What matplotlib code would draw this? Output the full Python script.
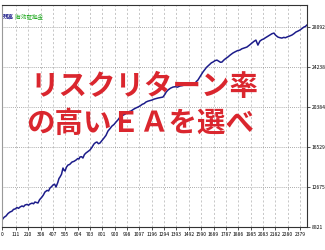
import matplotlib.pyplot as plt

plt.rcParams['font.family'] = ['Noto Sans CJK JP', 'DejaVu Sans']

# balance curve (trade number, balance)
trades = [0, 16, 32, 48, 64, 80, 92, 104, 120, 132, 144, 160, 172, 184, 200,
          212, 223, 240, 252, 263, 275, 287, 300, 319, 330, 343, 360, 372,
          383, 395, 407, 420, 431, 445, 455, 463, 475, 487, 495, 503, 515,
          527, 540, 550, 559, 575, 591, 605, 615, 622, 635, 646, 658, 670,
          686, 702, 718, 728, 734, 746, 758, 770, 782, 798, 814, 830, 846,
          862, 878, 894, 910, 926, 942, 960, 975, 998, 1015, 1030, 1053,
          1070, 1085, 1101, 1120, 1135, 1149, 1165, 1180, 1197, 1215, 1230,
          1245, 1265, 1285, 1300, 1312, 1325, 1345, 1365, 1385, 1400, 1420,
          1440, 1460, 1476, 1500, 1524, 1540, 1552, 1564, 1580, 1590, 1604,
          1620, 1632, 1644, 1660, 1672, 1684, 1700, 1716, 1730, 1744, 1756,
          1770, 1785, 1803, 1820, 1843, 1860, 1880, 1899, 1915, 1935, 1955,
          1975, 1995, 2010, 2027, 2035, 2043, 2059, 2075, 2090, 2099, 2115,
          2130, 2139, 2155, 2171, 2185, 2195, 2203, 2215, 2234, 2250, 2262,
          2274, 2290, 2305, 2314, 2330, 2346, 2362, 2378, 2395, 2410, 2422,
          2434]
balance = [9495, 9750, 9881, 10120, 10266, 10350, 10520, 10555, 10700, 10620,
           10748, 10850, 10780, 10941, 11000, 10920, 11037, 11120, 11060,
           11230, 11180, 11133, 11450, 11712, 11900, 12193, 12350, 12300,
           12579, 12700, 12868, 12950, 12675, 13100, 13500, 13639, 13900,
           14506, 14300, 14217, 14600, 14795, 14850, 14980, 15084, 15150,
           15276, 15420, 15380, 15566, 15600, 15469, 15800, 15951, 16100,
           16240, 16500, 16700, 16818, 16950, 17011, 16850, 16914, 17150,
           17396, 17650, 18070, 18300, 18552, 18700, 18938, 19150, 19420,
           19560, 19650, 19805, 19950, 20000, 20190, 20300, 20380, 20480,
           20650, 20720, 20865, 20950, 21000, 21058, 21150, 21200, 21250,
           21300, 21347, 21600, 21850, 22021, 22200, 22310, 22350, 22300,
           22407, 22450, 22520, 22503, 22480, 22503, 22650, 22850, 22985,
           23300, 23500, 23755, 24000, 24200, 24333, 24500, 24650, 24719,
           24850, 24911, 24800, 24700, 24719, 24900, 25050, 25201, 25380,
           25586, 25700, 25820, 25875, 26000, 26080, 26164, 26350, 26550,
           26700, 26838, 26600, 26357, 26742, 26880, 26950, 27031, 27150,
           27250, 27320, 27450, 27513, 27300, 27200, 27128, 27080, 27031,
           27100, 27060, 27128, 27200, 27280, 27320, 27450, 27610, 27700,
           27802, 27950, 28091, 28150, 28284]

x_ticks = [0, 111, 210, 308, 407, 505, 604, 703, 801, 900, 998, 1097, 1196,
           1294, 1393, 1492, 1590, 1689, 1787, 1886, 1985, 2083, 2182, 2280,
           2379]
y_ticks = [8821, 12675, 16529, 20384, 24238, 28092]

fig = plt.figure(figsize=(3.25, 2.5), dpi=100)
ax = fig.add_axes([2 / 325, 23 / 250, 305 / 325, 222 / 250])

ax.plot(trades, balance, color='#1c1c8a', linewidth=1.1)

ax.set_xlim(0, 2435)
ax.set_ylim(8821, 30220)
ax.set_xticks(x_ticks)
ax.set_xticklabels([str(v) for v in x_ticks], fontsize=3.6, fontstretch='condensed')
ax.set_yticks(y_ticks)
ax.set_yticklabels([str(v) for v in y_ticks], fontsize=3.6, fontstretch='condensed')
ax.yaxis.tick_right()
ax.tick_params(axis='x', length=2, width=0.6, pad=1.5, color='#333333')
ax.tick_params(axis='y', length=2, width=0.6, pad=1.5, color='#333333')

# grid: dashed verticals, dotted horizontals
for v in x_ticks[1:]:
    ax.axvline(v, color='#b0b0b0', linewidth=0.5, linestyle=(0, (3, 3)), zorder=0)
for v in y_ticks[1:]:
    ax.axhline(v, color='#909090', linewidth=0.6, linestyle=(0, (1, 1.5)), zorder=0)

for s in ax.spines.values():
    s.set_color('#333333')
    s.set_linewidth(0.8)
ax.spines['left'].set_color('#999999')

# legend-like labels top-left
ax.text(0.004, 0.945, '残高', transform=ax.transAxes, fontsize=4,
        color='#1c1c8a', fontweight='bold', va='center', ha='left')
ax.text(0.042, 0.945, '|有効証拠金', transform=ax.transAxes, fontsize=4,
        color='#22aa22', va='center', ha='left')

# overlay caption
ax.text(28 / 305, 0.632, 'リスクリターン率', transform=ax.transAxes,
        fontsize=20.5, fontweight='bold', color='#da262e', va='center', ha='left')
ax.text(24 / 305, 0.465, 'の高いＥＡを選べ', transform=ax.transAxes,
        fontsize=20.5, fontweight='bold', color='#da262e', va='center', ha='left')

fig.savefig('out.png', dpi=100)
